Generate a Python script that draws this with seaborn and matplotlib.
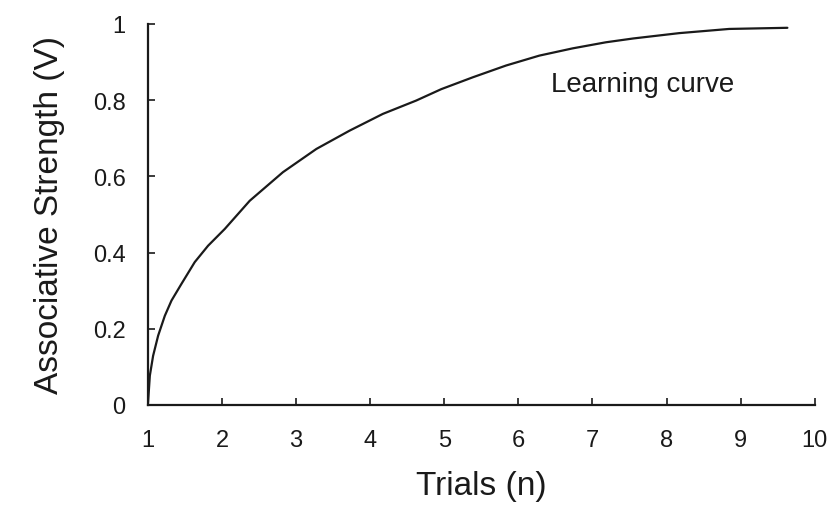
import pandas as pd
import seaborn as sns
import matplotlib
matplotlib.use("Agg")
import matplotlib.pyplot as plt

# Values
trials = [1.0, 1.004, 1.027, 1.071, 1.139, 1.229, 1.319, 1.454, 1.633, 1.813, 2.038,
          2.375, 2.823, 3.274, 3.722, 4.171, 4.621, 4.96, 5.384, 5.834, 6.283,
          6.732, 7.182, 7.55, 8.17, 8.844, 9.63]
strength = [0.0, 0.01, 0.077, 0.129, 0.182, 0.234, 0.274, 0.318, 0.375, 0.418, 0.462,
            0.536, 0.611, 0.672, 0.72, 0.764, 0.799, 0.829, 0.86, 0.891, 0.917,
            0.936, 0.952, 0.962, 0.976, 0.987, 0.99]
x_ticks = [1, 2, 3, 4, 5, 6, 7, 8, 9, 10]
y_ticks = [0, 0.2, 0.4, 0.6, 0.8, 1]
y_tick_labels = ["0", "0.2", "0.4", "0.6", "0.8", "1"]

data = pd.DataFrame({"trials": trials, "strength": strength})

sns.set_style("ticks")
plt.rcParams["font.family"] = ["Liberation Sans", "DejaVu Sans"]

fig = plt.figure(figsize=(8.4, 5.1), dpi=100)
ax = fig.add_axes([0.176, 0.204, 0.794, 0.747])

sns.lineplot(data=data, x="trials", y="strength", color="#1a1a1a", linewidth=1.6, ax=ax)

ax.set_xlim(1, 10)
ax.set_ylim(0, 1)
ax.set_xticks(x_ticks)
ax.set_yticks(y_ticks)
ax.set_yticklabels(y_tick_labels)
ax.tick_params(axis="both", direction="in", length=5, width=1.2, colors="#1a1a1a", labelsize=17)
ax.tick_params(axis="y", pad=16)
ax.tick_params(axis="x", pad=17)
for side in ["top", "right"]:
    ax.spines[side].set_visible(False)
for side in ["left", "bottom"]:
    ax.spines[side].set_linewidth(1.6)
    ax.spines[side].set_color("#1a1a1a")

ax.set_xlabel("Trials (n)", fontsize=24, color="#1a1a1a", labelpad=14)
ax.set_ylabel("Associative Strength (V)", fontsize=24, color="#1a1a1a", labelpad=20)
ax.text(6.44, 0.843, "Learning curve", fontsize=20, color="#1a1a1a", va="center", ha="left")

fig.savefig("out.png", dpi=100)
